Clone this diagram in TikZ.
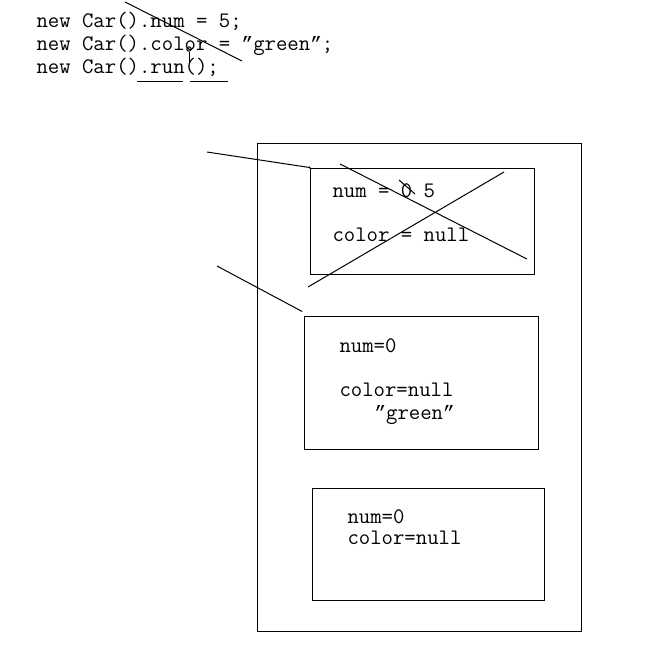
\documentclass[tikz,border=0pt]{standalone}
\usepackage{fontspec}
\newfontfamily\quotefont[Scale=0.875]{Liberation Mono}
\newcommand{\dqmark}{{\quotefont ”}}
\usetikzlibrary{positioning}
\begin{document}
\begin{tikzpicture}[
  x=0.75pt,y=-0.75pt,
  line width=0.75pt,
  font=\ttfamily\fontsize{16.6}{19}\selectfont,
  code/.style={anchor=base west, inner sep=0pt},
  heap/.style={draw, minimum width=243pt, minimum height=366pt, inner sep=0pt},
  objbox/.style={draw, inner sep=0pt},
  field/.style={anchor=base west, inner sep=0pt},
  strike/.style={line width=0.75pt}
]
  \useasboundingbox (0,0) rectangle (644,653);

  \node[code] (line1) at (36,27) {new Car().num = 5;};
  \node[code] (line2) at (36,50) {new Car().color = \dqmark green\dqmark;};
  \node[code] (line3) at (36,73) {new Car().run();};

  \draw[strike] (125,2) -- (242,61);
  \draw (189,49) circle (2.2);
  \draw (189,52) -- (189,62);
  \draw (137,81) -- (183,81);
  \draw (190,81) -- (228,81);

  \node[heap] (heap) at (419,387) {};

  \node[objbox, minimum width=168pt, minimum height=79.5pt] (obj1) at (422,221) {};
  \node[objbox, minimum width=175.5pt, minimum height=99.75pt] (obj2) at (421,382.5) {};
  \node[objbox, minimum width=174pt, minimum height=84pt] (obj3) at (428,544) {};

  \node[field] (num1) at (332,197) {num = 0 5};
  \node[field] (col1) at (332,241) {color = null};
  \draw[strike] (399,180) -- (415,194);
  \draw[strike] (340,164) -- (527,259);
  \draw[strike] (308,287) -- (504,172);

  \node[field] (num2) at (339,352) {num=0};
  \node[field] (col2) at (339,396) {color=null};
  \node[field] (grn2) at (374,419) {\dqmark green\dqmark};

  \node[field] (num3) at (347,523) {num=0};
  \node[field] (col3) at (347,544) {color=null};

  \coordinate (ref1) at (207,152);
  \coordinate (ref2) at (217,266);
  \draw (ref1) -- (obj1.north west);
  \fill (obj1.north west) circle (1.2);
  \draw (ref2) -- ([xshift=-1pt,yshift=3pt]obj2.north west);
\end{tikzpicture}
\end{document}
